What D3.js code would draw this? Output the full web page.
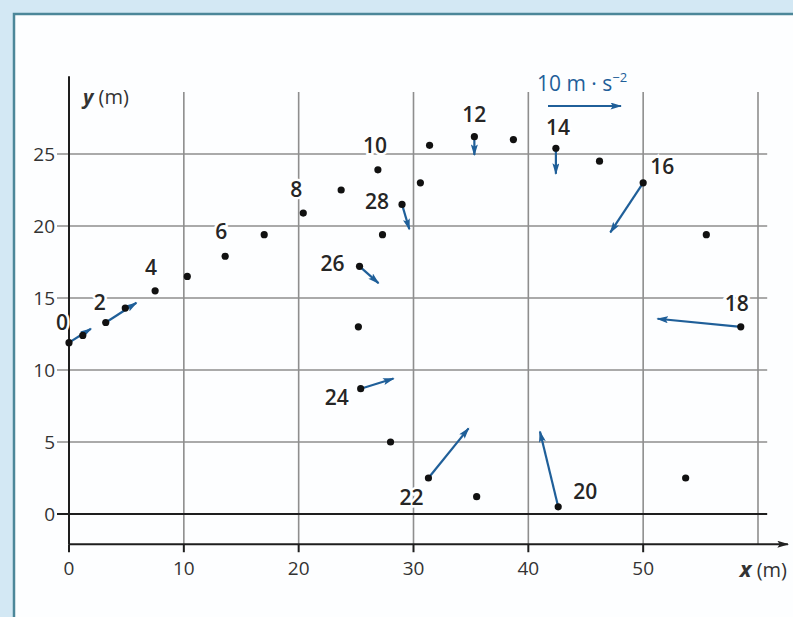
<!DOCTYPE html>
<html>
<head>
<meta charset="utf-8">
<script src="https://cdn.jsdelivr.net/npm/d3@7"></script>
<style>
	html, body { margin: 0; padding: 0; background: #d3e8f4; }
	svg { display: block; }
	.tick-label { font-family: "Open Sans", sans-serif; font-size: 19px; fill: #333; }
	.pt-label { font-family: "Open Sans", sans-serif; font-size: 21px; font-weight: 600; fill: #262626; }
	.axis-title { font-family: "Open Sans", sans-serif; font-size: 20px; fill: #333; }
</style>
</head>
<body>
<div id="chart"></div>
<script>
// positions of the object, one point every time step (m)
const posX = [0, 1.2, 3.2, 4.9, 7.5, 10.3, 13.6, 17.0, 20.4, 23.7, 26.9, 31.4, 35.3, 38.7, 42.4, 46.2, 50.0, 55.5, 58.5, 53.7, 42.6, 35.5, 31.3, 28.0, 25.4, 25.2, 25.3, 27.3, 29.0, 30.6];
const posY = [11.9, 12.4, 13.3, 14.3, 15.5, 16.5, 17.9, 19.4, 20.9, 22.5, 23.9, 25.6, 26.2, 26.0, 25.4, 24.5, 23.0, 19.4, 13.0, 2.5, 0.5, 1.2, 2.5, 5.0, 8.7, 13.0, 17.2, 19.4, 21.5, 23.0];

// labelled points
const labelIdx = [0, 2, 4, 6, 8, 10, 12, 14, 16, 18, 20, 22, 24, 26, 28];

// acceleration vectors (m.s-2), at points that have one
const accIdx = [0, 2, 12, 14, 16, 18, 20, 22, 24, 26, 28];
const accX = [3.0, 4.2, 0, 0, -4.5, -11.4, -2.5, 5.5, 4.5, 2.6, 1.0];
const accY = [1.9, 2.7, -2.5, -3.5, -6.8, 1.1, 10.3, 6.8, 1.4, -2.3, -3.4];

const xTicks = [0, 10, 20, 30, 40, 50];
const yTicks = [0, 5, 10, 15, 20, 25];
const xGrid = [10, 20, 30, 40, 50, 60];
const yGrid = [5, 10, 15, 20, 25];
const accRef = 10;

const W = 793, H = 617;
const blue = '#1f5f99';

const svg = d3.select('#chart').append('svg')
	.attr('width', W)
	.attr('height', H);

// frame
svg.append('rect')
	.attr('x', 14).attr('y', 14)
	.attr('width', W + 20).attr('height', H + 20)
	.attr('fill', '#fdfeff')
	.attr('stroke', '#4c8799')
	.attr('stroke-width', 2.5);

const x = d3.scaleLinear().domain([0, 60]).range([69, 758]);
const y = d3.scaleLinear().domain([0, 25]).range([514, 154]);
const acc = d3.scaleLinear().domain([0, 10]).range([0, 73]);

const defs = svg.append('defs');
defs.append('marker')
	.attr('id', 'head')
	.attr('viewBox', '0 0 10 6')
	.attr('refX', 9).attr('refY', 3)
	.attr('markerUnits', 'userSpaceOnUse')
	.attr('markerWidth', 12).attr('markerHeight', 7)
	.attr('orient', 'auto')
	.append('path')
	.attr('d', 'M0,0 L10,3 L0,6 L2,3 Z')
	.attr('fill', blue);
defs.append('marker')
	.attr('id', 'axhead')
	.attr('viewBox', '0 0 10 6')
	.attr('refX', 9).attr('refY', 3)
	.attr('markerUnits', 'userSpaceOnUse')
	.attr('markerWidth', 12).attr('markerHeight', 7)
	.attr('orient', 'auto')
	.append('path')
	.attr('d', 'M0,0 L10,3 L0,6 L2,3 Z')
	.attr('fill', '#222');

const yBottom = -2.1;
const grid = svg.append('g').attr('stroke', '#8e8e8e').attr('stroke-width', 1.6);

grid.selectAll('.vgrid').data(xGrid).enter()
	.append('line')
	.attr('class', 'vgrid')
	.attr('x1', d => x(d)).attr('x2', d => x(d))
	.attr('y1', y(29.3)).attr('y2', y(yBottom));

grid.selectAll('.hgrid').data(yGrid).enter()
	.append('line')
	.attr('class', 'hgrid')
	.attr('x1', x(0) - 12).attr('x2', x(60.8))
	.attr('y1', d => y(d)).attr('y2', d => y(d));

// axes
const axes = svg.append('g').attr('stroke', '#1e1e1e').attr('stroke-width', 2);
axes.append('line')
	.attr('x1', x(0) - 12).attr('x2', x(60.8))
	.attr('y1', y(0)).attr('y2', y(0));
axes.append('line')
	.attr('x1', x(0)).attr('x2', x(0))
	.attr('y1', y(30.4)).attr('y2', y(yBottom));
axes.append('line')
	.attr('x1', x(0)).attr('x2', x(62.6))
	.attr('y1', y(yBottom)).attr('y2', y(yBottom))
	.attr('marker-end', 'url(#axhead)');
axes.selectAll('.xt').data(xTicks).enter()
	.append('line')
	.attr('class', 'xt')
	.attr('x1', d => x(d)).attr('x2', d => x(d))
	.attr('y1', y(yBottom)).attr('y2', y(yBottom) + 8);

svg.selectAll('.ylab').data(yTicks).enter()
	.append('text')
	.attr('class', 'tick-label')
	.attr('x', x(0) - 14)
	.attr('y', d => y(d))
	.attr('dy', '0.35em')
	.attr('text-anchor', 'end')
	.text(d => d);

svg.selectAll('.xlab').data(xTicks).enter()
	.append('text')
	.attr('class', 'tick-label')
	.attr('x', d => x(d))
	.attr('y', y(yBottom) + 24)
	.attr('dy', '0.35em')
	.attr('text-anchor', 'middle')
	.text(d => d);

const yTitle = svg.append('text').attr('class', 'axis-title')
	.attr('x', x(0) + 14).attr('y', y(29.3) + 12);
yTitle.append('tspan').attr('font-style', 'italic').attr('font-weight', 700).text('y');
yTitle.append('tspan').text(' (m)');

const xTitle = svg.append('text').attr('class', 'axis-title')
	.attr('x', 787).attr('y', y(yBottom) + 33)
	.attr('text-anchor', 'end');
xTitle.append('tspan').attr('font-style', 'italic').attr('font-weight', 700).attr('font-size', 22).text('x');
xTitle.append('tspan').text(' (m)');

// point labels, drawn with a white halo over the grid
const labelOff = {
	0: [-7, -20], 2: [-6, -20], 4: [-4, -23], 6: [-4, -25], 8: [-7, -24],
	10: [-3, -24], 12: [0, -22], 14: [2, -21], 16: [19, -16], 18: [-4, -23],
	20: [27, -15], 22: [-17, 19], 24: [-24, 9], 26: [-27, -3], 28: [-25, -3]
};
svg.selectAll('.pt-label').data(labelIdx).enter()
	.append('text')
	.attr('class', 'pt-label')
	.attr('x', i => x(posX[i]) + labelOff[i][0])
	.attr('y', i => y(posY[i]) + labelOff[i][1])
	.attr('dy', '0.36em')
	.attr('text-anchor', 'middle')
	.attr('stroke', '#fff')
	.attr('stroke-width', 5)
	.attr('paint-order', 'stroke')
	.text(i => i);

// acceleration arrows
svg.selectAll('.acc').data(accIdx).enter()
	.append('line')
	.attr('class', 'acc')
	.attr('x1', i => x(posX[i]))
	.attr('y1', i => y(posY[i]))
	.attr('x2', (i, k) => x(posX[i]) + acc(accX[k]))
	.attr('y2', (i, k) => y(posY[i]) - acc(accY[k]))
	.attr('stroke', blue)
	.attr('stroke-width', 2.2)
	.attr('marker-end', 'url(#head)');

// points
svg.selectAll('.point').data(posX).enter()
	.append('circle')
	.attr('class', 'point')
	.attr('cx', d => x(d))
	.attr('cy', (d, i) => y(posY[i]))
	.attr('r', 3.6)
	.attr('fill', '#111');

// scale arrow 10 m.s-2
const refX0 = 548, refY0 = 106;
svg.append('line')
	.attr('x1', refX0).attr('y1', refY0)
	.attr('x2', refX0 + acc(accRef)).attr('y2', refY0)
	.attr('stroke', blue)
	.attr('stroke-width', 2.2)
	.attr('marker-end', 'url(#head)');
const refText = svg.append('text')
	.attr('x', refX0 - 11).attr('y', refY0 - 15)
	.attr('font-family', '"Open Sans", sans-serif')
	.attr('font-size', 21)
	.attr('fill', blue);
refText.append('tspan').text(accRef + ' m \u00b7 s');
refText.append('tspan').attr('dy', -9).attr('font-size', 13).text('\u22122');
</script>
</body>
</html>
